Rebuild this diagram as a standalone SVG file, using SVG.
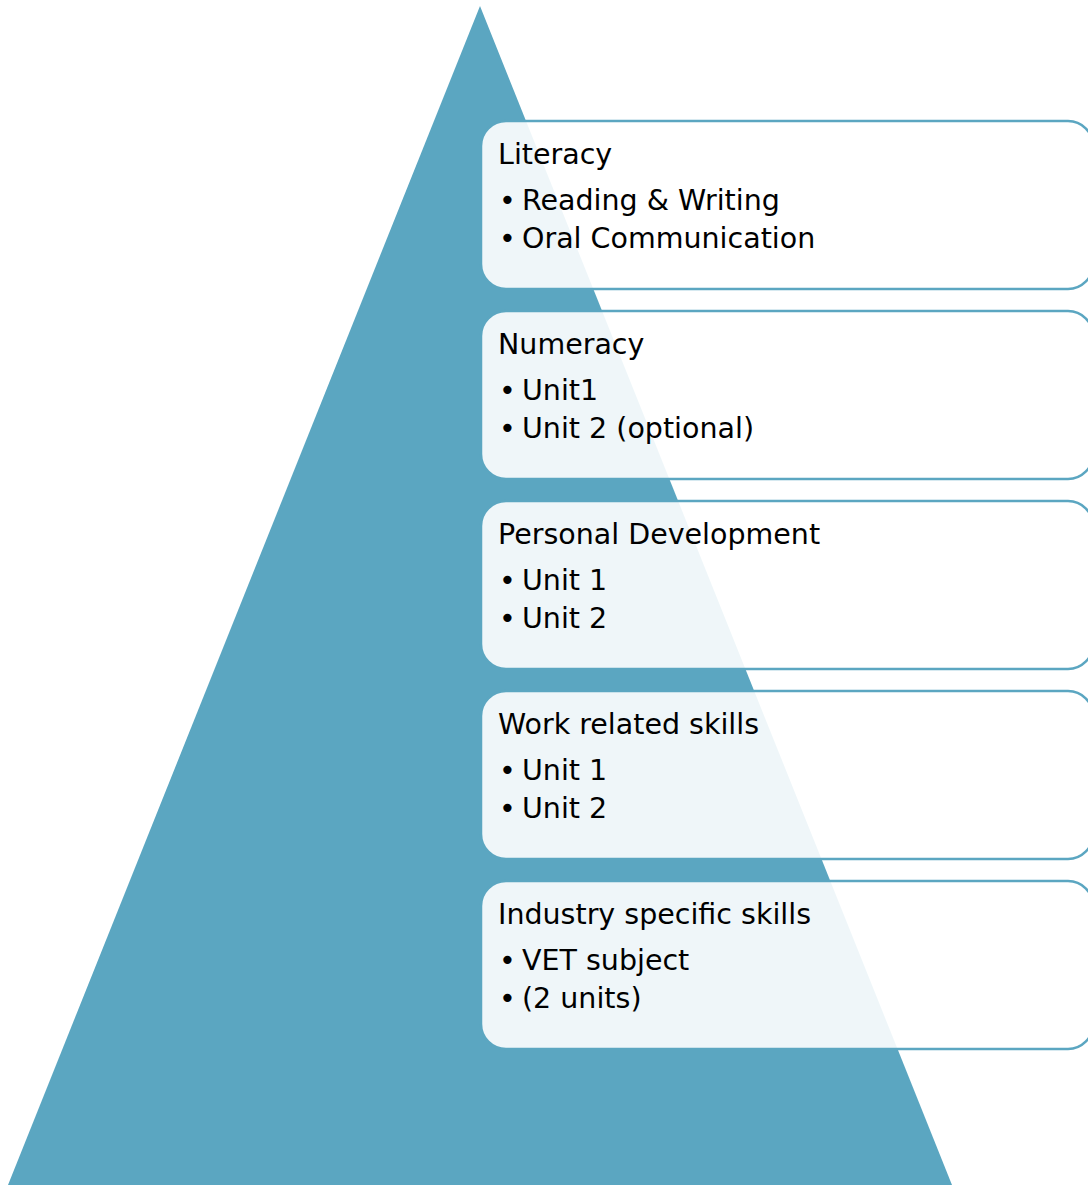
<svg xmlns="http://www.w3.org/2000/svg" width="1088" height="1185" viewBox="0 0 1088 1185">
<style>
.box{fill:#ffffff;fill-opacity:0.9;stroke:#5ba6c1;stroke-width:2.5}
text{font-family:"DejaVu Sans",sans-serif;font-size:28.5px;fill:#000}
</style>
<rect width="1088" height="1185" fill="#ffffff"/>
<polygon id="pyramid" points="480,6 952,1185 8,1185" fill="#5ba6c1"/>
<g id="connectors"></g>
<g id="literacy">
<rect class="box" x="481" y="121" width="612" height="168" rx="25"/>
<text x="498" y="164">Literacy</text>
<text x="499" y="210">•<tspan x="522">Reading &amp; Writing</tspan></text>
<text x="499" y="248">•<tspan x="522">Oral Communication</tspan></text>
</g>
<g id="numeracy">
<rect class="box" x="481" y="311" width="612" height="168" rx="25"/>
<text x="498" y="354">Numeracy</text>
<text x="499" y="400">•<tspan x="522">Unit1</tspan></text>
<text x="499" y="438">•<tspan x="522">Unit 2 (optional)</tspan></text>
</g>
<g id="personal">
<rect class="box" x="481" y="501" width="612" height="168" rx="25"/>
<text x="498" y="544">Personal Development</text>
<text x="499" y="590">•<tspan x="522">Unit 1</tspan></text>
<text x="499" y="628">•<tspan x="522">Unit 2</tspan></text>
</g>
<g id="work">
<rect class="box" x="481" y="691" width="612" height="168" rx="25"/>
<text x="498" y="734">Work related skills</text>
<text x="499" y="780">•<tspan x="522">Unit 1</tspan></text>
<text x="499" y="818">•<tspan x="522">Unit 2</tspan></text>
</g>
<g id="industry">
<rect class="box" x="481" y="881" width="612" height="168" rx="25"/>
<text x="498" y="924">Industry specific skills</text>
<text x="499" y="970">•<tspan x="522">VET subject</tspan></text>
<text x="499" y="1008">•<tspan x="522">(2 units)</tspan></text>
</g>
</svg>
